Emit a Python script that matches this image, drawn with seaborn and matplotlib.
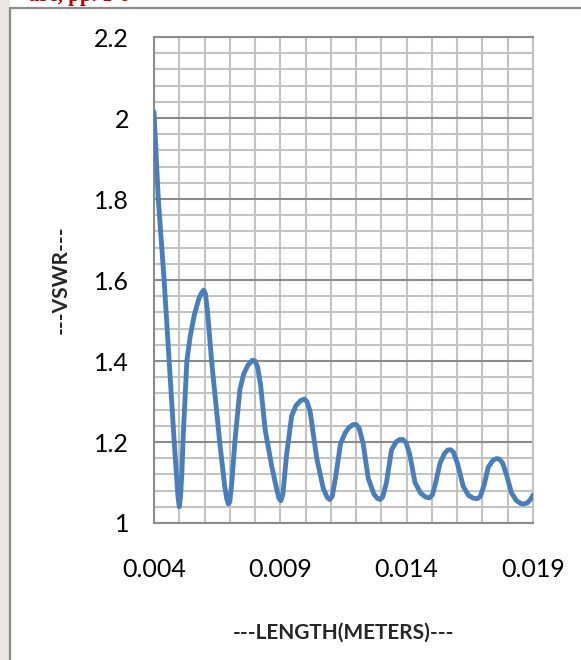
import numpy as np
import pandas as pd
import matplotlib
matplotlib.use("Agg")
import matplotlib.pyplot as plt
from matplotlib.patches import Rectangle
from matplotlib.lines import Line2D
import seaborn as sns

# ---- data ----
length_m = [0.00400, 0.00417, 0.00440, 0.00460, 0.00480, 0.00490, 0.00495, 0.00500,
            0.00505, 0.00510, 0.00516, 0.00530, 0.00543, 0.00560, 0.00578, 0.00590, 0.00597,
            0.00604, 0.00612, 0.00628, 0.00660, 0.00680, 0.00688, 0.00694, 0.00700,
            0.00708, 0.00720, 0.00740, 0.00755, 0.00772, 0.00790, 0.00800, 0.00810,
            0.00822, 0.00840, 0.00866, 0.00885, 0.00895, 0.00902, 0.00910, 0.00925,
            0.00945, 0.00962, 0.00980, 0.00995, 0.01005, 0.01018, 0.01044, 0.01070,
            0.01085, 0.01095, 0.01105, 0.01118, 0.01138, 0.01156, 0.01172, 0.01188,
            0.01200, 0.01212, 0.01228, 0.01248, 0.01270, 0.01284, 0.01294, 0.01305,
            0.01320, 0.01340, 0.01358, 0.01372, 0.01385, 0.01398, 0.01412, 0.01433,
            0.01455, 0.01475, 0.01490, 0.01502, 0.01515, 0.01532, 0.01550, 0.01562,
            0.01573, 0.01585, 0.01602, 0.01624, 0.01645, 0.01665, 0.01680, 0.01692,
            0.01707, 0.01723, 0.01742, 0.01755, 0.01766, 0.01780, 0.01797, 0.01815,
            0.01835, 0.01852, 0.01864, 0.01878, 0.01890, 0.01900]
vswr = [2.015, 1.80, 1.60, 1.40, 1.20, 1.11, 1.065, 1.040,
        1.065, 1.12, 1.22, 1.40, 1.46, 1.515, 1.555, 1.570, 1.575,
        1.565, 1.52, 1.40, 1.20, 1.09, 1.060, 1.047, 1.052,
        1.10, 1.20, 1.33, 1.368, 1.390, 1.402, 1.400, 1.385,
        1.34, 1.23, 1.14, 1.085, 1.060, 1.055, 1.07, 1.17,
        1.265, 1.290, 1.302, 1.306, 1.300, 1.275, 1.160, 1.085,
        1.064, 1.058, 1.065, 1.11, 1.195, 1.222, 1.236, 1.243,
        1.243, 1.234, 1.195, 1.110, 1.072, 1.061, 1.058, 1.064,
        1.10, 1.180, 1.200, 1.206, 1.206, 1.198, 1.170, 1.100,
        1.074, 1.064, 1.062, 1.070, 1.10, 1.148, 1.172, 1.180,
        1.181, 1.175, 1.145, 1.090, 1.068, 1.061, 1.060, 1.066,
        1.095, 1.138, 1.155, 1.159, 1.158, 1.148, 1.115, 1.074,
        1.055, 1.048, 1.047, 1.050, 1.058, 1.069]
x_major_ticks = [0.004, 0.009, 0.014, 0.019]
x_tick_labels = ["0.004", "0.009", "0.014", "0.019"]
y_major_ticks = [1.0, 1.2, 1.4, 1.6, 1.8, 2.0, 2.2]
y_tick_labels = ["1", "1.2", "1.4", "1.6", "1.8", "2", "2.2"]
x_label = "---LENGTH(METERS)---"
y_label = "---VSWR---"
header_fragment = "ure, pp. 1-6"

df = pd.DataFrame({"length": length_m, "vswr": vswr})

sns.set_style("white")
plt.rcParams["font.family"] = ["Lato", "DejaVu Sans"]

W, H = 581, 660
fig = plt.figure(figsize=(W / 100, H / 100), dpi=100)
fig.patch.set_facecolor("white")

# left background strip and outer frame
fig.patches.append(Rectangle((0, 0), 10 / W, 1, transform=fig.transFigure,
                             facecolor="#ebe6e4", edgecolor="none", zorder=0))
fig.lines.append(Line2D([10 / W, 10 / W], [0, 1 - 8 / H], transform=fig.transFigure,
                        color="#8c8c8c", lw=1.6))
fig.lines.append(Line2D([10 / W, 1], [1 - 8 / H, 1 - 8 / H], transform=fig.transFigure,
                        color="#8c8c8c", lw=1.6))
fig.text(28 / W, 1 - 1 / H, header_fragment, color="#c00000", fontsize=15,
         fontweight="bold", family=["Liberation Serif", "DejaVu Serif"],
         ha="left", va="baseline")

ax = fig.add_axes([154 / W, 1 - 523 / H, (533 - 154) / W, (523 - 37) / H])
ax.set_facecolor("white")

sns.lineplot(data=df, x="length", y="vswr", ax=ax, color="#4a7ebb", linewidth=3.5,
             solid_joinstyle="round", solid_capstyle="round", zorder=3)

ax.set_xlim(0.004, 0.019)
ax.set_ylim(1.0, 2.2)
ax.set_xticks(x_major_ticks)
ax.set_xticklabels(x_tick_labels)
ax.set_xticks(np.arange(0.004, 0.01901, 0.001), minor=True)
ax.set_yticks(y_major_ticks)
ax.set_yticklabels(y_tick_labels)
ax.set_yticks(np.arange(1.0, 2.2001, 0.04), minor=True)

ax.grid(which="minor", axis="both", color="#c3c3c3", lw=1.5, zorder=1)
ax.grid(which="major", axis="x", color="#c3c3c3", lw=1.5, zorder=1)
ax.grid(which="major", axis="y", color="#8c8c8c", lw=1.5, zorder=1)
ax.set_axisbelow(True)

for s in ["left", "bottom", "top"]:
    ax.spines[s].set_color("#8c8c8c")
    ax.spines[s].set_linewidth(1.5)
ax.spines["right"].set_color("#c3c3c3")
ax.spines["right"].set_linewidth(1.5)

ax.tick_params(which="major", direction="out", length=6, width=1.3, color="#8c8c8c",
               labelsize=18, labelcolor="black")
ax.tick_params(axis="y", which="major", pad=12)
ax.tick_params(axis="x", which="major", pad=19)
ax.tick_params(which="minor", length=0)

ax.set_xlabel(x_label, fontsize=15, fontweight="bold")
ax.set_ylabel(y_label, fontsize=15, fontweight="bold")
ax.xaxis.set_label_coords(0.5, -(623 - 523) / (523 - 37))
ax.yaxis.set_label_coords(-(154 - 71) / (533 - 154), 0.5)

fig.savefig("out.png", dpi=100)
